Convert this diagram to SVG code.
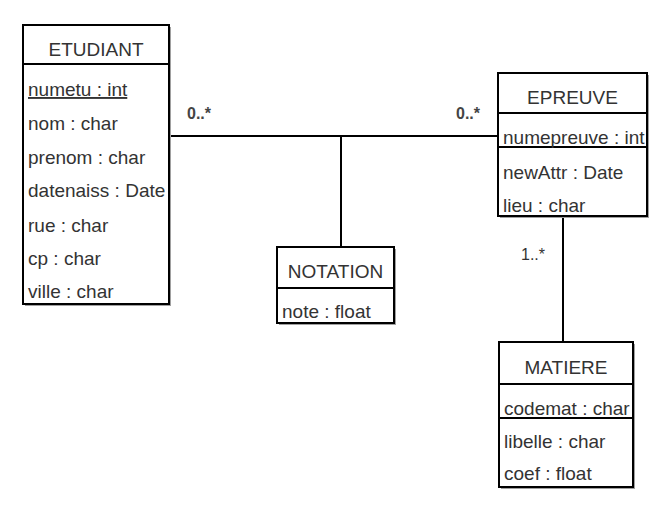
<svg xmlns="http://www.w3.org/2000/svg" width="659" height="507" viewBox="0 0 659 507">
<style>
.box{fill:#fff;stroke:#000;stroke-width:2}
.shadow{fill:#a0a0a0}
.sep{stroke:#000;stroke-width:2}
.t{font-family:"Liberation Sans",Arial,sans-serif;font-size:19px;fill:#333}
.c{text-anchor:middle}
.u{text-decoration:underline}
.m{font-family:"Liberation Sans",Arial,sans-serif;font-size:16px;font-weight:bold;fill:#444}
.m2{font-family:"Liberation Sans",Arial,sans-serif;font-size:16px;fill:#333}
.conn{stroke:#000;stroke-width:2;fill:none}
</style>
<defs>
<clipPath id="cE"><rect x="499" y="74" width="147" height="141"/></clipPath>
<clipPath id="cM"><rect x="500" y="343" width="132" height="143"/></clipPath>
</defs>
<rect width="659" height="507" fill="#fff"/>
<g id="connectors">
<line class="conn" x1="169" y1="136" x2="499" y2="136"/>
<line class="conn" x1="341" y1="136" x2="341" y2="247"/>
<line class="conn" x1="563" y1="216" x2="563" y2="342"/>
<text class="m" x="187" y="119">0..*</text>
<text class="m" x="456" y="119">0..*</text>
<text class="m2" x="521" y="260">1..*</text>
</g>
<g id="etudiant">
<rect class="shadow" x="25" y="27" width="146" height="279"/>
<rect class="box" x="23" y="25" width="146" height="279"/>
<line class="sep" x1="23" y1="64" x2="169" y2="64"/>
<text class="t c" x="96" y="56">ETUDIANT</text>
<text class="t u" x="28" y="96">numetu : int</text>
<text class="t" x="28" y="130">nom : char</text>
<text class="t" x="28" y="164">prenom : char</text>
<text class="t" x="28" y="197">datenaiss : Date</text>
<text class="t" x="28" y="232">rue : char</text>
<text class="t" x="28" y="265">cp : char</text>
<text class="t" x="28" y="298">ville : char</text>
</g>
<g id="notation">
<rect class="shadow" x="279" y="249" width="117" height="76"/>
<rect class="box" x="277" y="247" width="117" height="76"/>
<line class="sep" x1="277" y1="288" x2="394" y2="288"/>
<text class="t c" x="335.5" y="278">NOTATION</text>
<text class="t" x="282" y="318">note : float</text>
</g>
<g id="epreuve">
<rect class="shadow" x="500" y="75" width="149" height="143"/>
<rect class="box" x="498" y="73" width="149" height="143"/>
<line class="sep" x1="498" y1="113" x2="647" y2="113"/>
<line class="sep" x1="498" y1="147" x2="647" y2="147"/>
<g clip-path="url(#cE)">
<text class="t c" x="572.5" y="104">EPREUVE</text>
<text class="t" x="503" y="144">numepreuve : int</text>
<text class="t" x="503" y="179">newAttr : Date</text>
<text class="t" x="503" y="212">lieu : char</text>
</g>
</g>
<g id="matiere">
<rect class="shadow" x="501" y="344" width="134" height="145"/>
<rect class="box" x="499" y="342" width="134" height="145"/>
<line class="sep" x1="499" y1="384" x2="633" y2="384"/>
<line class="sep" x1="499" y1="418" x2="633" y2="418"/>
<g clip-path="url(#cM)">
<text class="t c" x="566" y="374">MATIERE</text>
<text class="t" x="504" y="415">codemat : char</text>
<text class="t" x="504" y="448">libelle : char</text>
<text class="t" x="504" y="480">coef : float</text>
</g>
</g>
</svg>
